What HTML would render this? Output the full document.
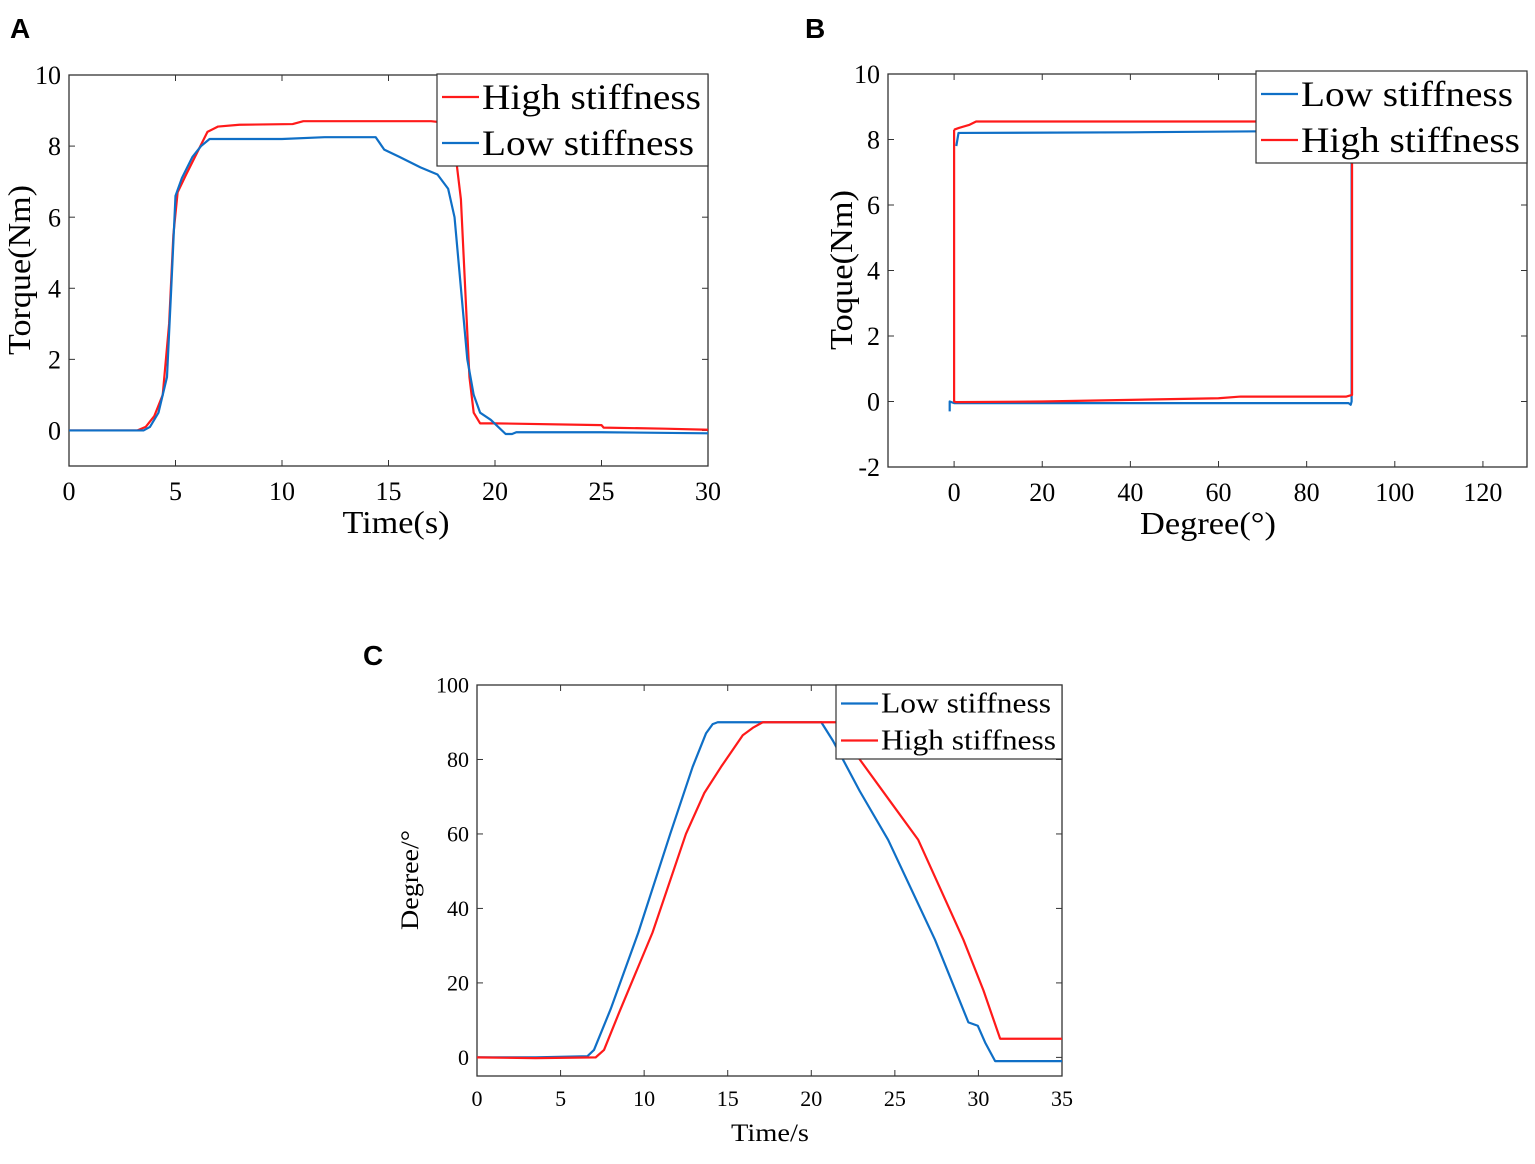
<!DOCTYPE html>
<html><head><meta charset="utf-8"><style>
body{margin:0;background:#fff;width:1535px;height:1159px;overflow:hidden}
svg{font-family:"Liberation Serif",serif}
</style></head><body>
<svg id="s" width="1535" height="1159">
<text x="10" y="38" font-family="Liberation Sans" font-weight="bold" font-size="28">A</text>
<text x="805" y="38" font-family="Liberation Sans" font-weight="bold" font-size="28">B</text>
<text x="363" y="665" font-family="Liberation Sans" font-weight="bold" font-size="28">C</text>
</svg>
<script>
// Panel A: torque vs time
const aHighT=[0,3.2,3.6,4,4.4,4.7,4.9,5.1,5.5,6,6.5,7,8,10.5,11,17,17.8,18.1,18.4,18.6,18.8,19,19.3,20,25,25.1,28,30];
const aHighV=[0,0,0.1,0.4,1,3,5.5,6.7,7.2,7.8,8.4,8.55,8.6,8.62,8.7,8.7,8.65,8,6.5,4,1.5,0.5,0.2,0.2,0.15,0.08,0.05,0.02];
const aLowT=[0,3.5,3.8,4.2,4.6,4.8,5,5.3,5.8,6.2,6.6,10,12,14.4,14.8,15.5,16.5,17.3,17.8,18.1,18.4,18.7,19,19.3,19.8,20.5,20.8,21,25,30];
const aLowV=[0,0,0.1,0.5,1.5,4,6.6,7.1,7.7,8,8.2,8.2,8.25,8.25,7.9,7.7,7.4,7.2,6.8,6,4,2,1,0.5,0.3,-0.1,-0.1,-0.05,-0.05,-0.08];
const aXTicks=[0,5,10,15,20,25,30];
const aYTicks=[0,2,4,6,8,10];
// Panel B: torque vs degree
const bLowX=[-1,-1,0,89.5,90,90.2,90.2,70,40,1,0.5];
const bLowY=[-0.3,0,-0.05,-0.05,-0.1,0,8.25,8.25,8.22,8.2,7.8];
const bHighX=[0,0,0.5,20,60,65,89,90.3,90.3,5,3.5,1,0];
const bHighY=[8.3,0,-0.02,0,0.1,0.15,0.15,0.2,8.55,8.55,8.45,8.35,8.3];
const bXTicks=[0,20,40,60,80,100,120];
const bYTicks=[-2,0,2,4,6,8,10];
// Panel C: degree vs time
const cLowT=[0,3.5,6.6,7,8,9.65,11.56,12.9,13.7,14.1,14.4,20.6,21.3,22.9,24.6,27.4,29.4,29.96,30.4,31,35];
const cLowV=[0,0,0.3,2,13,33.5,60,78,87,89.5,90,90,85,71.5,58.4,31.6,9.4,8.5,4,-1,-1];
const cHighT=[0,3.5,7.1,7.6,8.5,10.5,12.5,13.6,14.6,15.9,16.5,17.1,21.5,22,22.9,24.6,26.4,29.1,30.3,31.3,35];
const cHighV=[0,-0.2,0,2,12,33.5,60,71,78,86.5,88.5,90,90,86,80,69.5,58.4,31.6,18,5,5];
const cXTicks=[0,5,10,15,20,25,30,35];
const cYTicks=[0,20,40,60,80,100];

const S=document.getElementById('s');const NS='http://www.w3.org/2000/svg';
function mk(t,a,p){const e=document.createElementNS(NS,t);for(const k in a)e.setAttribute(k,a[k]);(p||S).appendChild(e);return e;}
function panel(o){
  const sx=v=>o.x0+(v-o.xmin)/(o.xmax-o.xmin)*(o.x1-o.x0);
  const sy=v=>o.y1-(v-o.ymin)/(o.ymax-o.ymin)*(o.y1-o.y0);
  const g=mk('g',{});
  
  
  const r=mk('rect',{x:o.x0,y:o.y0,width:o.x1-o.x0,height:o.y1-o.y0,fill:'none',stroke:'#333','stroke-width':1.3},g);
  
  
  o.xt.forEach(v=>{const X=sx(v);
    mk('line',{x1:X,x2:X,y1:o.y1,y2:o.y1-6,stroke:'#333'},g);mk('line',{x1:X,x2:X,y1:o.y0,y2:o.y0+6,stroke:'#333'},g);
    const t=mk('text',{x:X,y:o.y1+o.fs+8,'text-anchor':'middle','font-size':o.fs},g);t.textContent=v;
    
    });
  o.yt.forEach(v=>{const Y=sy(v);
    mk('line',{x1:o.x0,x2:o.x0+6,y1:Y,y2:Y,stroke:'#333'},g);mk('line',{x1:o.x1,x2:o.x1-6,y1:Y,y2:Y,stroke:'#333'},g);
    const t=mk('text',{x:o.x0-8,y:Y+o.fs*0.35,'text-anchor':'end','font-size':o.fs},g);t.textContent=v;
    
    });
  o.series.forEach(s=>{const p=mk('polyline',{points:s.x.map((v,i)=>sx(v)+','+sy(s.y[i])).join(' '),fill:'none',stroke:s.c,'stroke-width':2.2,'stroke-linejoin':'round'},g);
    
    });
  const xl=mk('text',{x:o.xlx,y:o.xly,'text-anchor':'middle','font-size':o.lfs,textLength:o.xlw,lengthAdjust:'spacingAndGlyphs'},g);xl.textContent=o.xl;
  
  
  const yl=mk('text',{x:0,y:0,'text-anchor':'middle','font-size':o.lfs,textLength:o.ylw,lengthAdjust:'spacingAndGlyphs',transform:`translate(${o.ylx},${o.yly}) rotate(-90)`},g);yl.textContent=o.yl;
  
  
  const L=o.leg;const lg=mk('g',{},g);
  
  
  mk('rect',{x:L.x,y:L.y,width:L.w,height:L.h,fill:'#fff',stroke:'#333','stroke-width':1.2},lg);
  L.e.forEach((e,i)=>{const yy=L.y+L.h*(i+0.5)/L.e.length;
    mk('line',{x1:L.x+5,x2:L.x+L.lw,y1:yy,y2:yy,stroke:e[1],'stroke-width':2.2},lg);
    const t=mk('text',{x:L.x+L.lw+3,y:yy+L.fs*0.33,'font-size':L.fs,textLength:e[2],lengthAdjust:'spacingAndGlyphs'},lg);t.textContent=e[0];
    
    });
}
panel({name:'panel-a-chart',x0:69,x1:708,y0:75,y1:466,xmin:0,xmax:30,ymin:-1,ymax:10,xt:aXTicks,yt:aYTicks,fs:26,lfs:32,
 xl:'Time(s)',xlw:107,xlx:396,xly:533,yl:'Torque(Nm)',ylw:170,ylx:30,yly:270,
 series:[{x:aHighT,y:aHighV,c:'#ff1a1a',n:'high-stiffness-line'},{x:aLowT,y:aLowV,c:'#0f6fc6',n:'low-stiffness-line'}],
 leg:{x:437,y:74,w:271,h:92,lw:42,fs:36,e:[['High stiffness','#ff1a1a',219],['Low stiffness','#0f6fc6',212]]}});
panel({name:'panel-b-chart',x0:888,x1:1527,y0:74,y1:467,xmin:-15,xmax:130,ymin:-2,ymax:10,xt:bXTicks,yt:bYTicks,fs:26,lfs:32,
 xl:'Degree(°)',xlw:136,xlx:1208,xly:534,yl:'Toque(Nm)',ylw:160,ylx:852,yly:270,
 series:[{x:bLowX,y:bLowY,c:'#0f6fc6',n:'low-stiffness-line'},{x:bHighX,y:bHighY,c:'#ff1a1a',n:'high-stiffness-line'}],
 leg:{x:1256,y:71,w:271,h:92,lw:42,fs:36,e:[['Low stiffness','#0f6fc6',212],['High stiffness','#ff1a1a',219]]}});
panel({name:'panel-c-chart',x0:477,x1:1062,y0:685,y1:1076,xmin:0,xmax:35,ymin:-5,ymax:100,xt:cXTicks,yt:cYTicks,fs:22,lfs:25,
 xl:'Time/s',xlw:78,xlx:770,xly:1141,yl:'Degree/°',ylw:100,ylx:418,yly:880,
 series:[{x:cLowT,y:cLowV,c:'#0f6fc6',n:'low-stiffness-line'},{x:cHighT,y:cHighV,c:'#ff1a1a',n:'high-stiffness-line'}],
 leg:{x:836,y:685,w:226,h:74,lw:42,fs:28,e:[['Low stiffness','#0f6fc6',170],['High stiffness','#ff1a1a',175]]}});
</script>
</body></html>
